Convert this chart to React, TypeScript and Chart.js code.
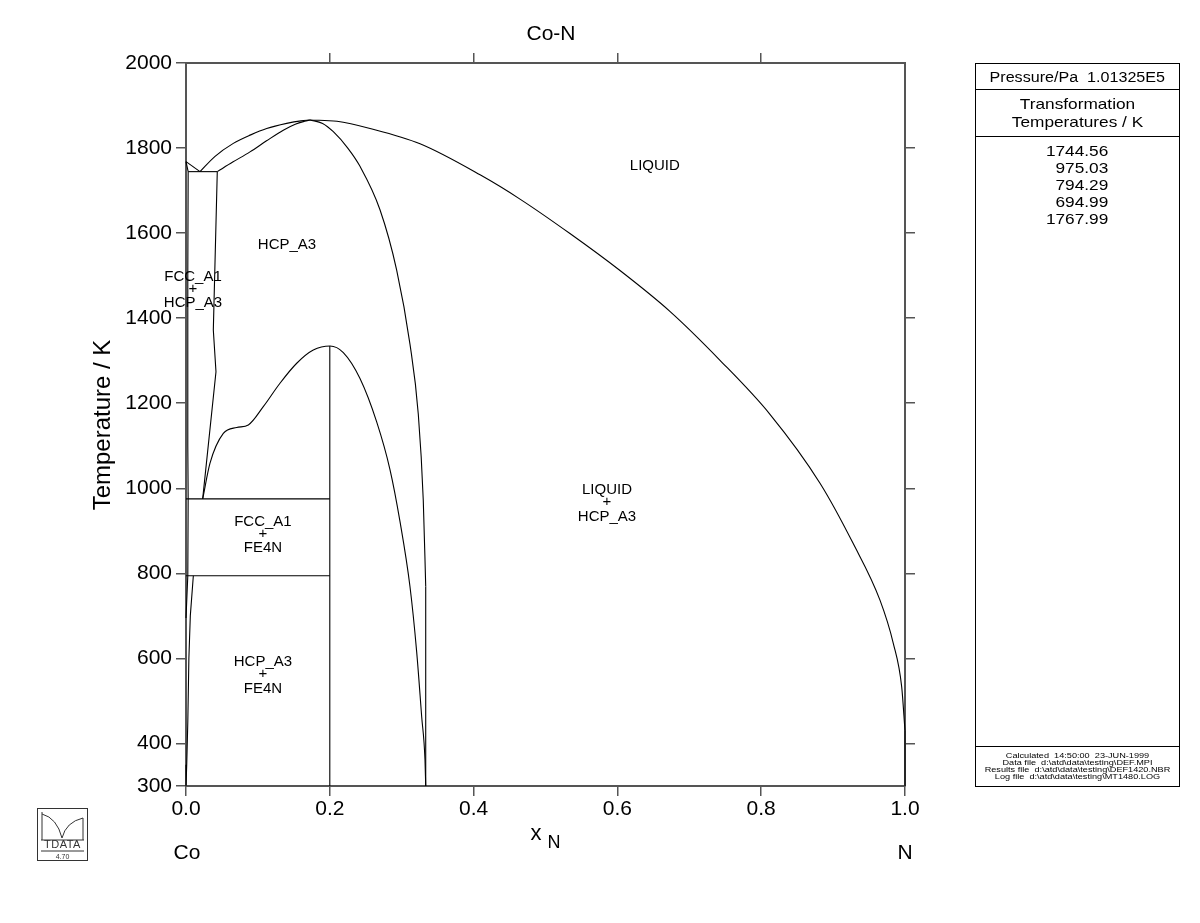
import React, { useEffect, useRef } from "react";
import { Chart, registerables } from "chart.js";

Chart.register(...registerables);

const FONT = "'Liberation Sans', Arial, Helvetica, sans-serif";
const AXIS = "#555";

// ---- tick labels ----
const xTicks = [0, 0.2, 0.4, 0.6, 0.8, 1.0];
const yTicks = [300, 400, 600, 800, 1000, 1200, 1400, 1600, 1800, 2000];
const xTopTicks = [0.2, 0.4, 0.6, 0.8];
const yRightTicks = [400, 600, 800, 1000, 1200, 1400, 1600, 1800];

// ---- phase boundary curves (x_N, T/K) ----
const liqLeftX = [0, 0.0195];
const liqLeftT = [1767.99, 1744.56];

const liqUpperX = [0.0195, 0.04, 0.0658, 0.09, 0.1122, 0.14, 0.16, 0.1725];
const liqUpperT = [1744.56, 1780, 1811, 1831, 1846, 1858, 1864, 1866];

const hcpSolidusX = [0.0435, 0.065, 0.089, 0.112, 0.1353, 0.152, 0.165, 0.1725];
const hcpSolidusT = [1744.56, 1767, 1791, 1817, 1842, 1856, 1863, 1866];

const liqRightX = [0.1725, 0.21, 0.256, 0.3255, 0.409, 0.4645, 0.534, 0.6036, 0.673, 0.7427, 0.8122, 0.8818, 0.928, 0.9652, 0.9838, 0.9954, 1.0];
const liqRightT = [1866, 1863, 1846, 1810, 1737, 1680, 1599, 1512, 1416, 1301, 1174, 1012, 870, 737, 635, 533, 430];

const liqAxisX = [1.0, 1.0];
const liqAxisT = [430, 300];

const domeOuterX = [0.1725, 0.19, 0.2049, 0.225, 0.242, 0.2698, 0.293, 0.3115, 0.323, 0.33, 0.3334];
const domeOuterT = [1866, 1858, 1838.5, 1800, 1757, 1655, 1513, 1339, 1176, 972, 769];

const domeOuterTailX = [0.3334, 0.3334];
const domeOuterTailT = [769, 300];

const domeInnerX = [0.0232, 0.0334, 0.0519, 0.0705, 0.0867, 0.1075, 0.1307, 0.154, 0.177, 0.2003, 0.2188, 0.242, 0.2652, 0.2837, 0.2976, 0.3115, 0.3208, 0.3278, 0.3324, 0.3334];
const domeInnerT = [975.03, 1059, 1129, 1143, 1149, 1192, 1247, 1294, 1325, 1334.6, 1319, 1258, 1156, 1044, 922, 769, 616, 463, 361, 300];

const fe4nX = [0.2, 0.2];
const fe4nT = [1334.6, 300];

const eut975X = [0, 0.2];
const eut975T = [975.03, 975.03];

const eut794X = [0, 0.2];
const eut794T = [794.29, 794.29];

const peritecticX = [0.0032, 0.0435];
const peritecticT = [1744.56, 1744.56];

const fccBoundX = [0, 0.003, 0.0025, 0.0025, 0.003, 0.0025, 0];
const fccBoundT = [1767.99, 1744.56, 1500, 1100, 975.03, 794.29, 694.99];

const hcpBoundX = [0.0435, 0.038, 0.0417, 0.0232];
const hcpBoundT = [1744.56, 1372, 1274, 975.03];

const hcpSolvusX = [0.0102, 0.006, 0.004, 0.0025, 0.001, 0];
const hcpSolvusT = [794.29, 700, 600, 450, 350, 300];

// ---- region labels ----
const labelText = ["HCP_A3", "FCC_A1", "+", "HCP_A3", "LIQUID", "LIQUID", "+", "HCP_A3", "FCC_A1", "+", "FE4N", "HCP_A3", "+", "FE4N"];
const labelX = [0.1405, 0.0097, 0.0097, 0.0097, 0.652, 0.5855, 0.5855, 0.5855, 0.107, 0.107, 0.107, 0.107, 0.107, 0.107];
const labelT = [1572, 1497, 1469, 1436, 1758, 996, 968, 933, 921, 894, 860, 592, 564, 528];

// ---- side panel ----
const transTemps = ["1744.56", "975.03", "794.29", "694.99", "1767.99"];
const fileInfo = [
  "Calculated  14:50:00  23-JUN-1999",
  "Data file  d:\\atd\\data\\testing\\DEF.MPI",
  "Results file  d:\\atd\\data\\testing\\DEF1420.NBR",
  "Log file  d:\\atd\\data\\testing\\MT1480.LOG",
];

// [xs, ts, smooth]
const curveDefs: Array<[number[], number[], boolean]> = [
  [liqLeftX, liqLeftT, false],
  [liqUpperX, liqUpperT, true],
  [hcpSolidusX, hcpSolidusT, true],
  [liqRightX, liqRightT, true],
  [liqAxisX, liqAxisT, false],
  [domeOuterX, domeOuterT, true],
  [domeOuterTailX, domeOuterTailT, false],
  [domeInnerX, domeInnerT, true],
  [fe4nX, fe4nT, false],
  [eut975X, eut975T, false],
  [eut794X, eut794T, false],
  [peritecticX, peritecticT, false],
  [fccBoundX, fccBoundT, false],
  [hcpBoundX, hcpBoundT, false],
  [hcpSolvusX, hcpSolvusT, false],
];

const textPlugin = {
  id: "textPlugin",
  afterDraw(chart: any) {
    const ctx = chart.ctx;
    const xs = chart.scales.x;
    const ys = chart.scales.y;
    ctx.save();
    ctx.fillStyle = "#000";
    ctx.textBaseline = "middle";
    ctx.textAlign = "center";
    // title
    ctx.font = `21px ${FONT}`;
    ctx.fillText("Co-N", 551, 34);
    // y title
    ctx.save();
    ctx.translate(103, 425);
    ctx.rotate(-Math.PI / 2);
    ctx.font = `24px ${FONT}`;
    ctx.fillText("Temperature / K", 0, 0);
    ctx.restore();
    // x title
    ctx.font = `22px ${FONT}`;
    ctx.fillText("x", 536, 834);
    ctx.font = `18px ${FONT}`;
    ctx.fillText("N", 554, 843);
    ctx.font = `21px ${FONT}`;
    ctx.fillText("Co", 187, 853);
    ctx.fillText("N", 905, 853);
    // region labels
    ctx.font = `15px ${FONT}`;
    for (let i = 0; i < labelText.length; i++) {
      const px = xs.getPixelForValue(labelX[i]);
      const py = ys.getPixelForValue(labelT[i]);
      ctx.fillText(labelText[i], px, py);
    }
    ctx.restore();
  },
};

export default function App() {
  const ref = useRef<HTMLCanvasElement | null>(null);

  useEffect(() => {
    if (!ref.current) return;
    const datasets = curveDefs.map(([xs, ts, smooth]) => ({
      data: xs.map((x, i) => ({ x, y: ts[i] })),
      showLine: true,
      borderColor: "#000",
      borderWidth: 1.1,
      pointRadius: 0,
      pointHoverRadius: 0,
      tension: smooth ? 0.4 : 0,
      cubicInterpolationMode: smooth ? "monotone" : "default",
      fill: false,
      clip: false as any,
    }));
    const tickFont = { family: FONT, size: 21 };
    const gridOpts = {
      display: true,
      drawOnChartArea: false,
      drawTicks: true,
      tickLength: 10,
      color: AXIS,
      lineWidth: 1.5,
    };
    const borderOpts = { display: true, color: AXIS, width: 2 };
    const chart = new Chart(ref.current, {
      type: "scatter",
      data: { datasets: datasets as any },
      options: {
        animation: false,
        responsive: false,
        devicePixelRatio: 1,
        layout: { padding: 0 },
        plugins: {
          legend: { display: false },
          title: { display: false },
          tooltip: { enabled: false },
        },
        events: [],
        scales: {
          x: {
            type: "linear",
            position: "bottom",
            min: 0,
            max: 1,
            afterBuildTicks: (s: any) => {
              s.ticks = xTicks.map((v) => ({ value: v }));
            },
            afterFit: (s: any) => {
              s.height = 137;
            },
            ticks: {
              callback: (v: any) => Number(v).toFixed(1),
              font: tickFont,
              color: "#000",
              padding: 1,
              maxRotation: 0,
              autoSkip: false,
            },
            grid: gridOpts,
            border: borderOpts,
          },
          x2: {
            type: "linear",
            position: "top",
            min: 0,
            max: 1,
            afterBuildTicks: (s: any) => {
              s.ticks = xTopTicks.map((v) => ({ value: v }));
            },
            afterFit: (s: any) => {
              s.height = 63;
            },
            ticks: { display: false },
            grid: gridOpts,
            border: borderOpts,
          },
          y: {
            type: "linear",
            position: "left",
            min: 300,
            max: 2000,
            afterBuildTicks: (s: any) => {
              s.ticks = yTicks.map((v) => ({ value: v }));
            },
            afterFit: (s: any) => {
              s.width = 186;
            },
            ticks: {
              callback: (v: any) => String(v),
              font: tickFont,
              color: "#000",
              padding: 4,
              autoSkip: false,
            },
            grid: gridOpts,
            border: borderOpts,
          },
          y2: {
            type: "linear",
            position: "right",
            min: 300,
            max: 2000,
            afterBuildTicks: (s: any) => {
              s.ticks = yRightTicks.map((v) => ({ value: v }));
            },
            afterFit: (s: any) => {
              s.width = 295;
            },
            ticks: { display: false },
            grid: gridOpts,
            border: borderOpts,
          },
        },
      } as any,
      plugins: [textPlugin],
    });
    return () => chart.destroy();
  }, []);

  const stretch = { transform: "scaleX(1.15)", transformOrigin: "center" };

  return (
    <div style={{ position: "absolute", left: 0, top: 0, width: 1200, height: 923, background: "#fff", fontFamily: FONT }}>
      <canvas ref={ref} width={1200} height={923} style={{ position: "absolute", left: 0, top: 0, width: 1200, height: 923 }} />
      <div
        style={{
          position: "absolute",
          left: 975,
          top: 63,
          width: 205,
          height: 724,
          border: "1px solid #000",
          boxSizing: "border-box",
          color: "#000",
        }}
      >
        <div
          style={{
            height: 25,
            borderBottom: "1px solid #000",
            fontSize: 14,
            display: "flex",
            alignItems: "center",
            justifyContent: "center",
            whiteSpace: "pre",
          }}
        >
          <span style={{ display: "inline-block", ...stretch }}>{"Pressure/Pa  1.01325E5"}</span>
        </div>
        <div
          style={{
            height: 47,
            borderBottom: "1px solid #000",
            fontSize: 15,
            lineHeight: "18px",
            textAlign: "center",
            paddingTop: 5,
            boxSizing: "border-box",
          }}
        >
          <div style={stretch}>
            Transformation
            <br />
            Temperatures / K
          </div>
        </div>
        <div style={{ textAlign: "center", paddingTop: 5 }}>
          <div style={{ display: "inline-block", textAlign: "right", fontSize: 15, lineHeight: "17px", ...stretch }}>
            {transTemps.map((t) => (
              <div key={t}>{t}</div>
            ))}
          </div>
        </div>
        <div
          style={{
            position: "absolute",
            left: 0,
            right: 0,
            bottom: 0,
            height: 40,
            borderTop: "1px solid #000",
            fontSize: 7.5,
            lineHeight: "7px",
            textAlign: "center",
            paddingTop: 5,
            boxSizing: "border-box",
            whiteSpace: "pre",
          }}
        >
          <div style={{ transform: "scaleX(1.22)", transformOrigin: "center" }}>
            {fileInfo.map((f) => (
              <div key={f}>{f}</div>
            ))}
          </div>
        </div>
      </div>
      <svg style={{ position: "absolute", left: 37, top: 808 }} width={52} height={54}>
        <rect x={0.5} y={0.5} width={50} height={52} fill="none" stroke="#333" strokeWidth={1} />
        <line x1={4} y1={43} x2={47} y2={43} stroke="#333" strokeWidth={1} />
        <path d="M5 4 L5 32" stroke="#333" fill="none" strokeWidth={1} />
        <path d="M5 6 Q20 10 25 30" stroke="#333" fill="none" strokeWidth={1} />
        <path d="M25 30 Q29 14 46 10" stroke="#333" fill="none" strokeWidth={1} />
        <line x1={46} y1={10} x2={46} y2={32} stroke="#333" strokeWidth={1} />
        <text x={25.5} y={40} textAnchor="middle" fontSize={11} fontFamily={FONT} fill="#333" letterSpacing={0.5}>
          TDATA
        </text>
        <line x1={4} y1={32} x2={47} y2={32} stroke="#333" strokeWidth={1} />
        <text x={25.5} y={50.5} textAnchor="middle" fontSize={7} fontFamily={FONT} fill="#333">
          4.70
        </text>
      </svg>
    </div>
  );
}
